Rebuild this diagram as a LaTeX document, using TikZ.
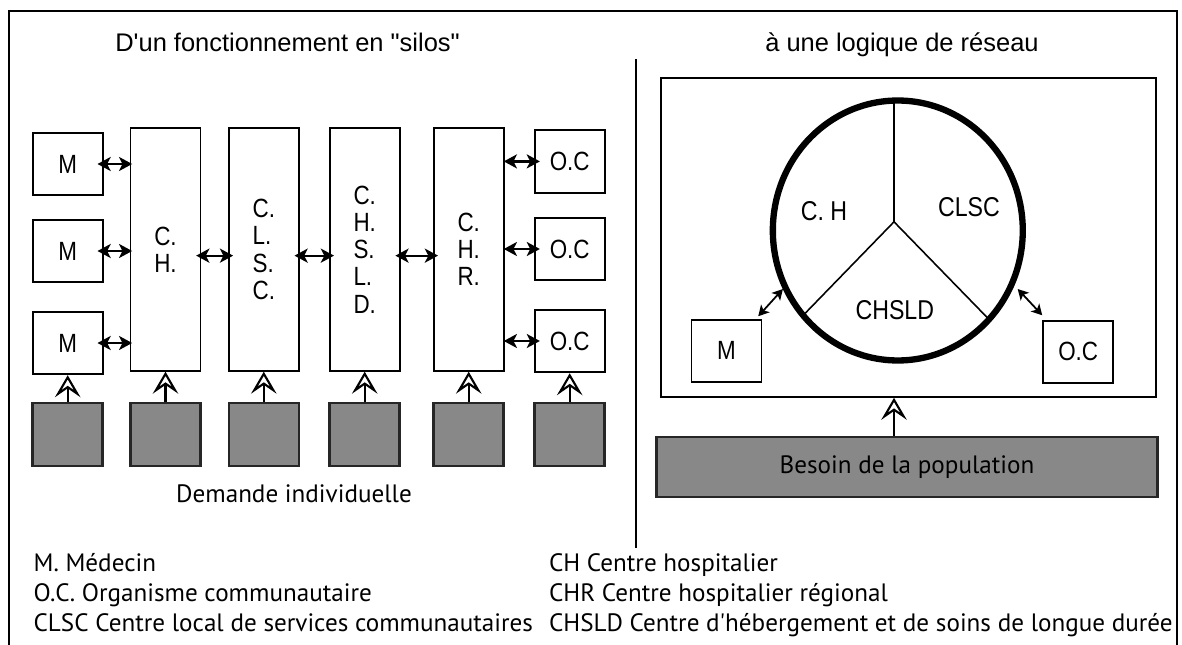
\documentclass[tikz,border=0pt]{standalone}
\usepackage{fontspec}
\setmainfont{PT Sans}
\newfontfamily\headfont{Liberation Sans}
\newfontfamily\labelfont[FakeStretch=0.85]{Liberation Sans}
\usetikzlibrary{arrows.meta}
\definecolor{needgray}{HTML}{888888}
\tikzset{
  unit/.style={draw, line width=1.1pt, fill=white, minimum width=1.4cm, minimum height=1.25cm, inner sep=0pt, font=\labelfont\fontsize{15}{15.5}\selectfont},
  column/.style={unit, minimum height=4.85cm, align=left},
  need/.style={draw=black!85, line width=1.4pt, fill=needgray, minimum width=1.4cm, minimum height=1.26cm, inner sep=0pt},
  link/.style={{Stealth[length=7.5pt,width=8pt,inset=2pt]}-{Stealth[length=7.5pt,width=8pt,inset=2pt]}, line width=1.3pt},
  thinlink/.style={{Stealth[length=6pt,width=6.5pt,inset=1.5pt]}-{Stealth[length=6pt,width=6.5pt,inset=1.5pt]}, line width=1pt},
  demand/.style={-{Stealth[open,length=12.5pt,width=14.5pt,inset=5pt]}, line width=1.2pt},
  heading/.style={font=\headfont\fontsize{14.5}{17}\selectfont, inner sep=0pt},
  legendtext/.style={font=\fontsize{14.3}{17}\selectfont, inner sep=0pt},
  sector/.style={font=\labelfont\fontsize{15.5}{16}\selectfont, inner sep=0pt}
}
\begin{document}
\begin{tikzpicture}[x=0.02cm, y=-0.02cm]
\useasboundingbox (0,0) rectangle (1182,645);
% frame and divider
\draw[line width=1.1pt] (9,660) -- (9,11) -- (1176.7,11) -- (1176.7,660);
\draw[line width=1.1pt] (636,59.3) -- (636,548);
\node[heading, anchor=base west] (silos) at (115,51.7) {D\textquotesingle un fonctionnement en "silos"};
\node[heading, anchor=base east] (reseau) at (1039,51.7) {à une logique de réseau};
% silos
\node[unit] (m1) at (67.7,164) {M};
\node[unit] (m2) at (67.7,251) {M};
\node[unit] (m3) at (67.7,343) {M};
\node[column] (ch) at (165.5,249.5) {C.\\H.};
\node[column] (clsc) at (263.8,249.5) {C.\\L.\\S.\\C.};
\node[column] (chsld) at (364.7,249.5) {C.\\H.\\S.\\L.\\D.};
\node[column] (chr) at (468.7,249.5) {C.\\H.\\R.};
\node[unit] (oc1) at (569.7,161.4) {O.C};
\node[unit] (oc2) at (569.7,249) {O.C};
\node[unit] (oc3) at (569.7,341) {O.C};
\foreach \m in {m1,m2,m3}
  \draw[link, shorten <=-3.5pt, shorten >=-1.5pt] (\m.east) -- (\m.east -| ch.west);
\foreach \a/\b in {ch/clsc, clsc/chsld, chsld/chr}
  \draw[link, shorten <=-3pt, shorten >=-3pt] ([yshift=-3.5pt]\a.east) -- ([yshift=-3.5pt]\b.west);
\foreach \o in {oc1,oc2,oc3}
  \draw[link, shorten <=-0.5pt, shorten >=-3.5pt] (\o.west -| chr.east) -- (\o.west);
\foreach \x/\n/\t in {67.7/1/m3, 165.5/2/ch, 263.8/3/clsc, 364.7/4/chsld, 468.7/5/chr, 569.7/6/oc3}{
  \node[need] (need\n) at (\x,434.5) {};
  \draw[demand] (need\n.north) -- (\t.south);
}
\node[legendtext] (demande) at (294,494) {Demande individuelle};
% reseau
\node[draw, line width=1.1pt, minimum width=9.9cm, minimum height=6.38cm] (net) at (908.1,237.35) {};
\coordinate (hub) at (894,221.8);
\draw[line width=0.9pt] (hub) -- (894,100) (hub) -- (803.1,315.4) (hub) -- (989,319.4);
\draw[line width=3.6pt] (897.8,230.5) ellipse [x radius=2.5cm, y radius=2.6cm];
\node[sector] (chlab) at (824,211.5) {C. H};
\node[sector] (clsclab) at (968.9,207.4) {CLSC};
\node[sector] (chsldlab) at (894.8,309.7) {CHSLD};
\node[unit] (rm) at (726.5,350.9) {M};
\node[unit] (roc) at (1078.2,351.9) {O.C};
\coordinate (mlink) at (782.9,289);
\coordinate (oclink) at (1017.7,289);
\draw[thinlink] ([xshift=-2.4pt,yshift=1.4pt]rm.north east) -- (mlink);
\draw[thinlink] (oclink) -- ([yshift=2.5pt]roc.north west);
\node[need, minimum width=10.02cm, minimum height=1.2cm, legendtext] (pop) at (907,467) {Besoin de la population};
\draw[demand] (pop.north -| hub) -- (net.south -| hub);
% legend
\node[legendtext, anchor=base west] (lm) at (33.3,571) {M. Médecin};
\node[legendtext, anchor=base west] (loc) at (33.3,601) {O.C. Organisme communautaire};
\node[legendtext, anchor=base west] (lclsc) at (33.3,631) {CLSC Centre local de services communautaires};
\node[legendtext, anchor=base east] (lchsld) at (1173,631) {CHSLD Centre d\textquotesingle hébergement et de soins de longue durée};
\node[legendtext, anchor=base west] (lch) at (lchsld.base west |- lm.base) {CH Centre hospitalier};
\node[legendtext, anchor=base west] (lchr) at (lchsld.base west |- loc.base) {CHR Centre hospitalier régional};
\end{tikzpicture}
\end{document}
